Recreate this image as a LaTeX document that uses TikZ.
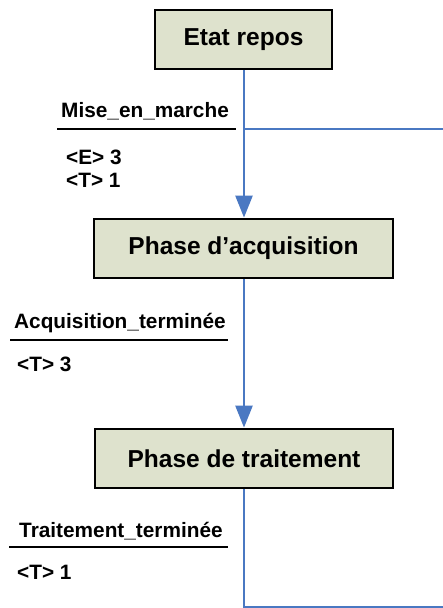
\documentclass[tikz,border=0pt]{standalone}
\usepackage{fontspec}
\setmainfont{Liberation Sans}
\usetikzlibrary{arrows.meta}
\definecolor{boxfill}{HTML}{DEE2CD}
\definecolor{flowblue}{HTML}{4A78C2}
\begin{document}
\begin{tikzpicture}[x=1pt,y=-1pt,
  state/.style={draw=black, line width=2.8pt, fill=boxfill, minimum height=59pt,
    inner sep=0pt, font=\fontsize{24.5}{29}\selectfont\bfseries},
  flow/.style={draw=flowblue, line width=2.5pt},
  flowarrow/.style={flow, -{Triangle[width=17pt,length=22pt]}},
  evt/.style={anchor=base west, inner sep=0pt, font=\fontsize{20.8}{24}\selectfont\bfseries},
  rule/.style={draw=black, line width=2.3pt}]
\useasboundingbox (0,0) rectangle (443,608);

% states
\node[state, minimum width=177pt] (repos) at (243.5,39.5) {Etat repos};
\node[state, minimum width=299pt] (acq) at (243.5,248.5) {Phase d’acquisition};
\node[state, minimum width=298pt] (trait) at (244,458.5) {Phase de traitement};

% transition labels
\node[evt] (t1) at (61,117) {Mise\_en\_marche};
\node[evt] (t1a) at (66,164) {<E> 3};
\node[evt] (t1b) at (66,187) {<T> 1};
\coordinate (u1a) at (57,129);
\coordinate (u1b) at (236,129);
\draw[rule] (u1a) -- (u1b);

\node[evt] (t2) at (14,328) {Acquisition\_terminée};
\node[evt] (t2a) at (17,371) {<T> 3};
\coordinate (u2a) at (10,340);
\coordinate (u2b) at (228,340);
\draw[rule] (u2a) -- (u2b);

\node[evt] (t3) at (19,537) {Traitement\_terminée};
\node[evt] (t3a) at (17,579) {<T> 1};
\coordinate (u3a) at (9,547);
\coordinate (u3b) at (228,547);
\draw[rule] (u3a) -- (u3b);

% flow connectors
\coordinate (j1) at (244,129);
\coordinate (r1) at (443,129);
\coordinate (j3) at (244,607);
\coordinate (r3) at (443,607);
\draw[flowarrow] (repos.south -| j1) -- (acq.north -| j1);
\draw[flow] (j1) -- (r1);
\draw[flowarrow] (acq.south -| j1) -- (trait.north -| j1);
\draw[flow] (trait.south -| j3) -- (j3) -- (r3);
\end{tikzpicture}
\end{document}
